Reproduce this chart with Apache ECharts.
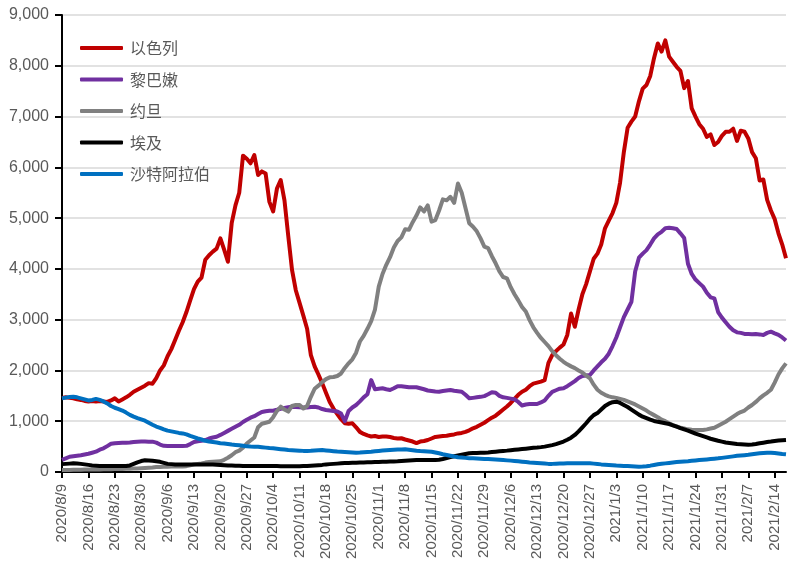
<!DOCTYPE html>
<html><head><meta charset="utf-8">
<script src="https://cdn.jsdelivr.net/npm/echarts@6/dist/echarts.min.js"></script>
<style>html,body{margin:0;padding:0;background:#fff}#c{width:794px;height:577px}</style>
</head><body><div id="c"></div>
<script>
// Categories: daily dates from 2020/8/9 to 2021/2/17
var startDate = [2020, 8, 9];
var dayCount = 193;
var seriesNames = ['以色列', '黎巴嫩', '约旦', '埃及', '沙特阿拉伯'];
var yTicks = [0, 1000, 2000, 3000, 4000, 5000, 6000, 7000, 8000, 9000];

var israel = [1460,1470,1460,1450,1430,1420,1400,1390,1400,1390,1400,1390,1380,1410,1450,1390,1430,1470,1520,1580,1620,1660,1700,1750,1740,1850,2000,2100,2280,2420,2600,2780,2950,3150,3380,3600,3750,3830,4180,4270,4340,4400,4600,4380,4140,4900,5250,5500,6230,6170,6080,6240,5850,5920,5880,5320,5130,5580,5750,5350,4650,3980,3580,3330,3080,2820,2300,2080,1920,1750,1560,1380,1250,1140,1040,960,950,960,880,790,750,720,700,710,690,700,700,690,670,660,665,640,620,600,570,600,610,630,660,690,700,710,715,730,740,760,770,790,820,860,890,930,970,1020,1070,1110,1170,1230,1290,1360,1440,1520,1580,1620,1690,1740,1760,1780,1810,2150,2300,2380,2450,2510,2700,3120,2860,3200,3500,3700,3950,4200,4300,4480,4800,4950,5100,5300,5700,6300,6780,6900,7000,7300,7550,7620,7800,8150,8440,8280,8500,8180,8080,7980,7900,7560,7700,7160,7000,6850,6760,6600,6650,6440,6500,6620,6700,6700,6760,6520,6720,6700,6570,6300,6180,5740,5760,5360,5150,4980,4700,4480,4210];

var lebanon = [240,270,300,310,320,330,345,360,380,400,440,466,510,555,565,570,575,577,580,590,597,600,600,598,597,578,540,515,512,510,512,510,512,515,550,590,605,615,630,660,680,695,730,770,810,850,890,930,985,1030,1070,1100,1140,1180,1195,1205,1207,1225,1245,1260,1275,1286,1280,1275,1268,1270,1280,1286,1270,1240,1221,1210,1200,1190,1150,1000,1200,1270,1320,1390,1470,1530,1810,1630,1640,1648,1630,1615,1650,1690,1690,1680,1668,1670,1668,1650,1630,1605,1595,1585,1581,1595,1605,1615,1600,1590,1581,1520,1451,1460,1470,1480,1495,1530,1570,1560,1500,1471,1460,1445,1431,1380,1310,1330,1339,1340,1339,1370,1410,1500,1580,1610,1640,1650,1690,1740,1790,1850,1890,1900,1910,2000,2080,2160,2230,2330,2480,2650,2850,3050,3200,3350,3950,4220,4300,4370,4480,4600,4680,4730,4800,4810,4800,4785,4700,4610,4100,3900,3790,3720,3650,3530,3440,3420,3150,3040,2950,2860,2790,2750,2740,2720,2717,2715,2717,2710,2700,2740,2763,2730,2700,2650,2590];

var jordan = [40,40,40,45,45,45,50,50,50,50,50,55,55,55,60,60,60,65,65,70,70,75,80,85,90,100,100,105,105,110,110,110,110,115,130,150,160,170,185,195,200,205,210,240,280,330,390,420,480,560,620,680,880,950,970,990,1080,1200,1286,1230,1190,1300,1320,1319,1250,1300,1480,1640,1700,1770,1830,1864,1870,1890,1940,2050,2140,2220,2350,2570,2680,2820,2970,3200,3650,3900,4080,4230,4420,4550,4620,4780,4770,4920,5050,5210,5130,5250,4930,4960,5150,5370,5350,5420,5300,5680,5500,5200,4900,4830,4740,4600,4440,4410,4250,4110,3950,3840,3815,3640,3500,3380,3250,3160,2990,2850,2740,2640,2560,2480,2380,2300,2230,2170,2120,2080,2045,2000,1960,1900,1845,1720,1620,1560,1520,1490,1470,1460,1440,1420,1390,1360,1330,1290,1250,1210,1160,1120,1080,1030,1000,960,925,900,870,855,840,830,828,827,827,840,855,870,910,950,990,1040,1090,1140,1180,1210,1270,1320,1380,1450,1510,1560,1620,1760,1920,2040,2140];

var egypt = [155,160,165,170,168,160,150,140,130,125,120,120,120,118,118,120,120,120,130,160,190,215,230,228,220,210,200,180,160,155,150,150,150,150,150,150,150,150,150,150,150,145,140,135,130,128,125,122,120,120,120,120,120,118,118,118,116,116,115,115,115,115,115,115,118,120,125,130,135,140,150,155,160,165,170,175,178,180,182,185,188,190,192,195,198,200,202,205,208,210,215,220,225,230,235,236,236,236,236,236,240,255,275,295,310,325,340,355,368,372,375,378,381,385,392,400,408,414,421,430,438,445,452,460,468,476,482,490,500,515,530,550,575,600,635,675,730,800,880,960,1050,1120,1160,1230,1300,1345,1375,1385,1360,1320,1280,1230,1180,1130,1090,1060,1030,1005,990,975,960,945,920,892,865,840,815,785,755,730,705,680,655,635,615,598,580,570,560,550,545,540,535,540,550,565,577,590,600,612,620,625,630];

var saudi = [1450,1465,1475,1480,1470,1450,1430,1410,1420,1440,1420,1390,1350,1300,1265,1240,1210,1170,1125,1090,1060,1035,1010,970,930,895,870,840,815,800,785,770,760,740,710,685,660,640,615,600,590,580,568,562,552,540,532,525,515,505,500,499,495,488,480,472,466,458,450,442,435,430,425,420,416,414,418,425,430,433,425,418,410,402,398,394,390,385,381,383,388,394,400,408,415,422,428,433,438,442,445,447,440,430,418,412,408,404,400,385,368,350,335,320,305,292,285,278,272,269,266,262,258,254,250,245,240,235,229,224,218,210,202,195,188,184,178,172,166,160,160,163,166,169,171,172,172,172,171,171,170,165,158,150,145,140,134,128,124,120,116,112,108,105,108,115,125,138,152,162,170,178,186,195,203,208,213,220,228,236,242,248,255,262,269,278,288,298,308,318,325,332,340,350,360,368,374,380,381,375,365,355,348];

var categories = [];
(function(){
  var d = new Date(startDate[0], startDate[1]-1, startDate[2]);
  for (var i = 0; i < dayCount; i++) {
    categories.push(d.getFullYear() + '/' + (d.getMonth()+1) + '/' + d.getDate());
    d.setDate(d.getDate() + 1);
  }
})();

var colors = ['#C00000', '#7030A0', '#808080', '#000000', '#0070C0'];
var dataSets = [israel, lebanon, jordan, egypt, saudi];
var textColor = '#595959';

var chart = echarts.init(document.getElementById('c'), null, {renderer: 'canvas'});
chart.setOption({
  animation: false,
  color: colors,
  grid: {left: 62, right: 8, top: 15, bottom: 105, containLabel: false},
  legend: {
    orient: 'vertical',
    left: 75, top: 35,
    itemWidth: 43, itemHeight: 4, itemGap: 15.5,
    icon: 'roundRect',
    textStyle: {fontFamily: '"Noto Sans CJK SC", sans-serif', fontSize: 16, color: textColor, padding: [0,0,0,2]},
    data: seriesNames
  },
  xAxis: {
    type: 'category',
    data: categories,
    boundaryGap: false,
    axisLine: {lineStyle: {color: '#000', width: 2}},
    axisTick: {show: true, interval: 6, length: 6, lineStyle: {color: '#000', width: 2}},
    axisLabel: {interval: 6, rotate: 90, fontSize: 15, color: textColor, fontFamily: '"Liberation Sans", Arial, sans-serif', margin: 12},
    splitLine: {show: false}
  },
  yAxis: {
    type: 'value',
    min: yTicks[0], max: yTicks[yTicks.length-1], interval: 1000,
    axisLine: {show: true, lineStyle: {color: '#000', width: 2}},
    axisTick: {show: true, length: 7, lineStyle: {color: '#000', width: 2}},
    axisLabel: {fontSize: 16, color: textColor, fontFamily: '"Liberation Sans", Arial, sans-serif', margin: 13,
      formatter: function(v){ return v.toLocaleString('en-US'); }},
    splitLine: {lineStyle: {color: '#D9D9D9', width: 1.5}}
  },
  series: seriesNames.map(function(n, k){
    return {name: n, type: 'line', data: dataSets[k], showSymbol: false, symbol: 'none',
      lineStyle: {width: 4, color: colors[k], join: 'round'}, itemStyle: {color: colors[k]}, z: 2};
  })
});
</script></body></html>
